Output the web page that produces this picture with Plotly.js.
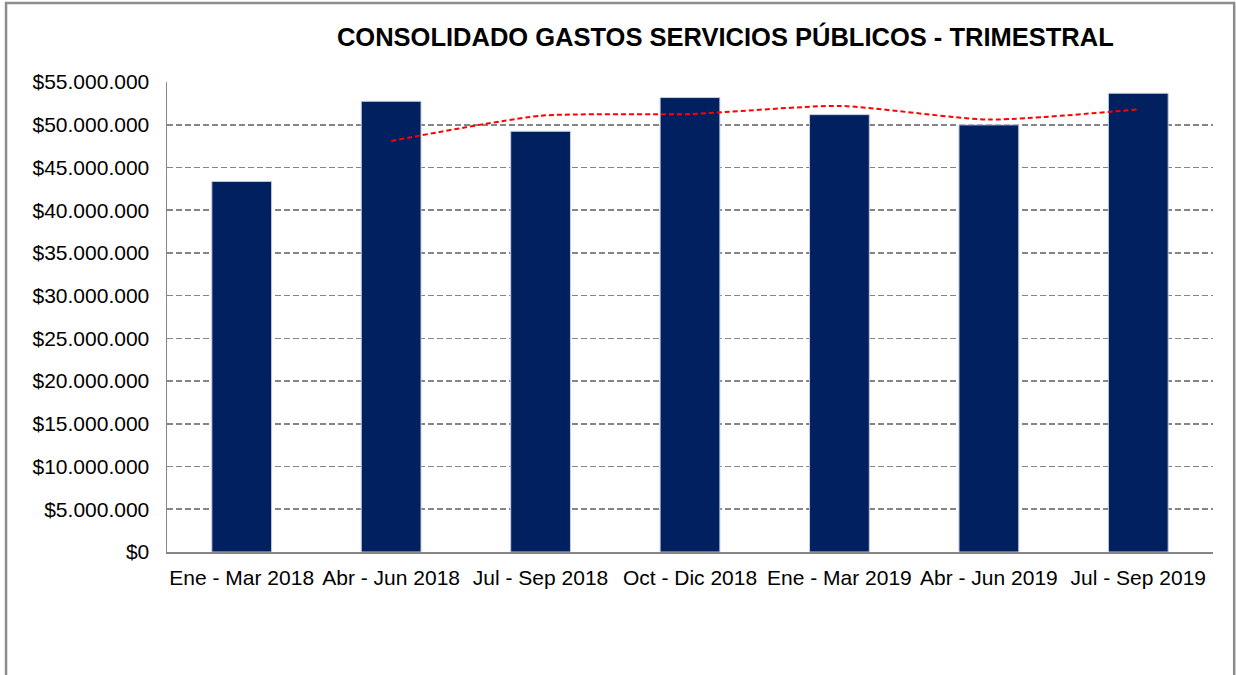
<!DOCTYPE html>
<html>
<head>
<meta charset="utf-8">
<script src="https://cdn.plot.ly/plotly-3.0.1.min.js"></script>
<style>html,body{margin:0;padding:0;background:#fff;}#chart{width:1236px;height:675px;}</style>
</head>
<body>
<div id="chart"></div>
<script>
var categories = ["Ene - Mar 2018", "Abr - Jun 2018", "Jul - Sep 2018", "Oct - Dic 2018", "Ene - Mar 2019", "Abr - Jun 2019", "Jul - Sep 2019"];
var gastos = [43370000, 52740000, 49230000, 53180000, 51180000, 49980000, 53680000];
var lineCategories = ["Abr - Jun 2018", "Jul - Sep 2018", "Oct - Dic 2018", "Ene - Mar 2019", "Abr - Jun 2019", "Jul - Sep 2019"];
var promedioMovil = [48100000, 51050000, 51250000, 52200000, 50600000, 51800000];
var yTickVals = [0, 5000000, 10000000, 15000000, 20000000, 25000000, 30000000, 35000000, 40000000, 45000000, 50000000, 55000000];
var yTickText = ["$0", "$5.000.000", "$10.000.000", "$15.000.000", "$20.000.000", "$25.000.000", "$30.000.000", "$35.000.000", "$40.000.000", "$45.000.000", "$50.000.000", "$55.000.000"];
var titulo = "CONSOLIDADO GASTOS SERVICIOS PÚBLICOS - TRIMESTRAL";

var font = "Liberation Sans, Arial, sans-serif";
var L = 167, R = 22.7, T = 82.3, B = 123.4;
var pw = 1236 - L - R, ph = 675 - T - B;
function px(x){ return (x - L) / pw; }
function py(y){ return (675 - B - y) / ph; }

var traces = [
  {
    type: "bar", x: categories, y: gastos, width: 0.4,
    marker: {color: "#002060", line: {color: "#c5cde0", width: 1}},
    hoverinfo: "x+y", showlegend: false
  },
  {
    type: "scatter", mode: "lines", x: lineCategories, y: promedioMovil,
    line: {color: "#ff0000", width: 2, dash: "5px,3px", shape: "spline", smoothing: 0.6},
    hoverinfo: "x+y", showlegend: false
  }
];

var layout = {
  width: 1236, height: 675,
  margin: {l: L, r: R, t: T, b: B, pad: 0},
  paper_bgcolor: "#ffffff", plot_bgcolor: "#ffffff",
  font: {family: font, color: "#000000"},
  title: {
    text: "<b>" + titulo + "</b>",
    font: {family: font, size: 25.5, color: "#000000"},
    x: px(725.5), xref: "paper", xanchor: "center",
    y: 1 - 37/675, yref: "container", yanchor: "middle"
  },
  xaxis: {
    type: "category", categoryorder: "array", categoryarray: categories,
    range: [-0.5, 6.5], showgrid: false, zeroline: false,
    showline: true, linecolor: "#868686", linewidth: 1.5,
    ticks: "", tickangle: 0, ticklabelstandoff: 6,
    tickfont: {family: font, size: 21, color: "#000000"},
    fixedrange: true
  },
  yaxis: {
    range: [0, 55000000], tickvals: yTickVals, ticktext: yTickText,
    showgrid: true, gridcolor: "#858585", gridwidth: 1.6, griddash: "6px,3px",
    zeroline: false, showline: true, linecolor: "#868686", linewidth: 1.5,
    ticks: "", ticklabelstandoff: 12,
    tickfont: {family: font, size: 21, color: "#000000"},
    fixedrange: true
  },
  shapes: [
    {
      type: "path", xref: "paper", yref: "paper",
      path: "M " + px(6) + "," + py(690) + " L " + px(6) + "," + py(3.5) + " L " + px(1234.5) + "," + py(3.5) + " L " + px(1234.5) + "," + py(690),
      line: {color: "#8c8c8c", width: 2.5}, layer: "above"
    }
  ]
};

Plotly.newPlot("chart", traces, layout, {displayModeBar: false, staticPlot: true});
</script>
</body>
</html>
